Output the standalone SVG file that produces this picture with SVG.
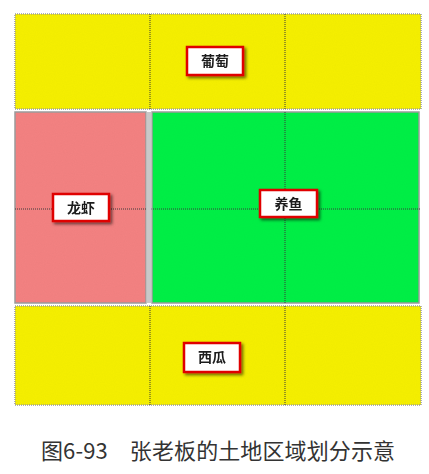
<svg xmlns="http://www.w3.org/2000/svg" width="429" height="474" viewBox="0 0 429 474">
<style>
.grid{stroke:#3a3a3a;stroke-width:1;stroke-dasharray:1 1;fill:none}
.frame{stroke:#9a9a9a;stroke-width:1.5;fill:none}
.lbl rect{fill:#fff;stroke:#e00000;stroke-width:2.5}
.lbl text{font-family:"Noto Sans CJK SC",sans-serif;font-weight:bold;font-size:14px;fill:#1a1a1a;text-anchor:middle}
.cap{font-family:"Noto Sans CJK SC",sans-serif;font-size:22px;fill:#333}
</style>
<defs>
<filter id="sh" x="-20%" y="-30%" width="150%" height="170%">
<feDropShadow dx="2" dy="2" stdDeviation="1.5" flood-color="#000" flood-opacity="0.55"/>
</filter>
<filter id="tex" x="0" y="0" width="100%" height="100%">
<feTurbulence type="fractalNoise" baseFrequency="0.9" numOctaves="2" seed="3" result="n"/>
<feColorMatrix in="n" type="matrix" values="0 0 0 0 0  0 0 0 0 0  0 0 0 0 0  0 0 0 0.05 0" result="d"/>
<feComposite in="d" in2="SourceGraphic" operator="in" result="dm"/>
<feMerge><feMergeNode in="SourceGraphic"/><feMergeNode in="dm"/></feMerge>
</filter>
</defs>
<rect width="429" height="474" fill="#fff"/>
<g id="grape">
<rect x="15" y="14" width="406" height="95" fill="#f6f000" filter="url(#tex)"/>
<rect x="15" y="14" width="406" height="95" class="frame" stroke-dasharray="1 1"/>
<line x1="150" y1="14" x2="150" y2="109" class="grid"/>
<line x1="285" y1="14" x2="285" y2="109" class="grid"/>
</g>
<g id="shrimp">
<rect x="15" y="112" width="131" height="191" fill="#f48282" filter="url(#tex)"/>
<rect x="15" y="112" width="131" height="191" class="frame"/>
</g>
<g id="fish">
<rect x="152" y="112" width="267" height="191" fill="#00f046" filter="url(#tex)"/>
<rect x="152" y="112" width="267" height="191" class="frame"/>
</g>
<g id="melon">
<rect x="15" y="306" width="406" height="99" fill="#f6f000" filter="url(#tex)"/>
<rect x="15" y="306" width="406" height="99" class="frame" stroke-dasharray="1 1"/>
<line x1="150" y1="306" x2="150" y2="405" class="grid"/>
<line x1="285" y1="306" x2="285" y2="405" class="grid"/>
</g>
<g id="connectors">
<line x1="15" y1="209" x2="421" y2="209" class="grid"/>
<line x1="149" y1="112" x2="149" y2="303" stroke="#c8c8c8" stroke-width="5"/>
<line x1="285" y1="112" x2="285" y2="303" class="grid"/>
</g>
<g id="label-grape" class="lbl" filter="url(#sh)">
<rect x="187" y="47" width="56" height="28"/>
<text x="215" y="66">葡萄</text>
</g>
<g id="label-shrimp" class="lbl" filter="url(#sh)">
<rect x="53" y="194" width="56" height="27"/>
<text x="81" y="212.5">龙虾</text>
</g>
<g id="label-fish" class="lbl" filter="url(#sh)">
<rect x="260" y="190" width="57" height="27"/>
<text x="288.5" y="208.5">养鱼</text>
</g>
<g id="label-melon" class="lbl" filter="url(#sh)">
<rect x="184" y="343" width="56" height="29"/>
<text x="212" y="362">西瓜</text>
</g>
<text x="41" y="459" class="cap" textLength="354">图6-93　张老板的土地区域划分示意</text>
</svg>
